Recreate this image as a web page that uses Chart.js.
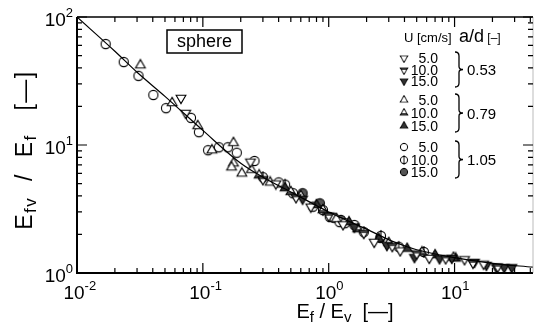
<!DOCTYPE html>
<html>
<head>
<meta charset="utf-8">
<script src="https://cdn.jsdelivr.net/npm/chart.js@4.4.1/dist/chart.umd.min.js"></script>
<style>
  html, body { margin: 0; padding: 0; background: #fff; }
</style>
</head>
<body>
<canvas id="chart" width="539" height="331"></canvas>
<script>
// fitted curve
const curveX = [0.01, 0.02, 0.03, 0.05, 0.1, 0.2, 0.3, 0.5, 1, 2, 3.3, 5, 10, 20, 42];
const curveY = [100, 54, 37, 24, 13, 7.2, 5.6, 4.3, 3.0, 2.2, 1.75, 1.52, 1.32, 1.19, 1.11];

// a/d = 0.53 (down triangles)
const down5 = [[0.067, 23.3], [0.073, 17.8], [0.239, 7.4], [0.38, 5.0], [0.72, 3.3], [1.3, 2.4], [2.3, 1.75], [3.7, 1.5], [6.3, 1.31], [12, 1.28], [17, 1.18]];
const down10 = [[0.3, 5.4], [0.55, 3.9], [1.0, 2.8], [1.9, 2.05], [3.2, 1.62], [5.0, 1.42], [8.5, 1.3], [14, 1.2], [22, 1.12]];
const down15 = [[0.62, 3.8], [1.6, 2.3], [2.9, 1.65], [4.8, 1.33], [7.6, 1.3], [9.5, 1.31], [14.4, 1.22], [17.9, 1.155], [21.5, 1.11], [24.8, 1.11], [28.5, 1.11]];
// a/d = 0.79 (up triangles)
const up5 = [[0.0319, 42], [0.057, 21.3], [0.091, 14.1], [0.118, 9.1], [0.175, 10.4], [0.175, 7.2], [0.169, 6.7], [0.204, 6.0], [0.243, 6.4], [0.343, 5.1], [0.6, 4.0], [1.15, 2.65]];
const up10 = [[0.28, 5.8], [0.5, 4.3], [0.9, 3.1], [1.7, 2.2], [3.0, 1.72], [5.5, 1.45], [9.8, 1.32]];
const up15 = [[0.45, 4.6], [0.8, 3.4], [1.45, 2.5], [2.5, 1.85], [4.2, 1.55], [7.0, 1.38], [10.2, 1.3]];
// a/d = 1.05 (circles)
const circ5 = [[0.0169, 61.5], [0.0235, 44.5], [0.0308, 34.7], [0.0404, 24.6], [0.051, 19.4], [0.0805, 16.3], [0.093, 12.6], [0.11, 9.1], [0.134, 9.6], [0.158, 9.6], [0.186, 8.7], [0.257, 7.5], [0.4, 5.1], [0.52, 4.2], [0.75, 3.3], [1.02, 2.74], [1.1, 2.7], [1.22, 2.5], [1.35, 2.45], [1.6, 2.37]];
const circ10 = [[0.3, 5.6], [0.45, 4.9], [0.9, 3.1], [1.9, 2.09], [2.6, 1.95], [3.6, 1.6], [5.7, 1.46]];
const circ15 = [[0.62, 4.2], [0.85, 3.5], [1.25, 2.6], [2.57, 1.88]];

// axis tick labels
const xDecades = [0.01, 0.1, 1, 10];
const xExps = ["-2", "-1", "0", "1"];
const yDecades = [1, 10, 100];
const yExps = ["0", "1", "2"];

// legend
const speedLabels = ["5.0", "10.0", "15.0"];
const ratioLabels = ["0.53", "0.79", "1.05"];

const FONT = '"Liberation Sans", Arial, sans-serif';

// marker images
function makeMarker(shape, kind) {
    const s = 14, m = s / 2;
    const c = document.createElement("canvas");
    c.width = s; c.height = s;
    const g = c.getContext("2d");
    g.strokeStyle = "#000";
    g.lineWidth = 1.1;
    const path = () => {
        g.beginPath();
        if (shape === "circle") {
            g.arc(m, m, 4.6, 0, Math.PI * 2);
        } else {
            const r = 5.6, d = shape === "up" ? -1 : 1;
            g.moveTo(m, m + d * r);
            g.lineTo(m - r * 0.87, m - d * r * 0.5);
            g.lineTo(m + r * 0.87, m - d * r * 0.5);
            g.closePath();
        }
    };
    path();
    g.fillStyle = kind === 2 ? (shape === "circle" ? "#555" : "#333") : "#fff";
    g.fill();
    if (kind === 1) {
        if (shape === "circle") {
            g.beginPath(); g.moveTo(m, m - 6); g.lineTo(m, m + 6); g.stroke();
        } else {
            g.save(); path(); g.clip();
            g.fillStyle = "#444";
            if (shape === "up") g.fillRect(0, m, s, s);
            else g.fillRect(0, 0, s, m);
            g.restore();
        }
    }
    path(); g.stroke();
    return c;
}

const markers = {
    down: [makeMarker("down", 0), makeMarker("down", 1), makeMarker("down", 2)],
    up: [makeMarker("up", 0), makeMarker("up", 1), makeMarker("up", 2)],
    circle: [makeMarker("circle", 0), makeMarker("circle", 1), makeMarker("circle", 2)]
};

function pts(arr) { return arr.map(p => ({ x: p[0], y: p[1] })); }

function scatterSet(label, arr, img) {
    return { type: "scatter", label, data: pts(arr), pointStyle: img, pointRadius: 5, showLine: false };
}

function richText(g, parts, x, y, align) {
    let w = 0;
    parts.forEach(p => { g.font = p.size + "px " + FONT; w += g.measureText(p.t).width; });
    let cx = align === "right" ? x - w : align === "center" ? x - w / 2 : x;
    parts.forEach(p => {
        g.font = p.size + "px " + FONT;
        g.fillText(p.t, cx, y + (p.dy || 0));
        cx += g.measureText(p.t).width;
    });
}

const decorPlugin = {
    id: "decor",
    afterDraw(chart) {
        const g = chart.ctx;
        const xs = chart.scales.x, ys = chart.scales.y;
        const a = chart.chartArea;
        g.save();
        g.strokeStyle = "#000";
        g.fillStyle = "#000";
        g.textBaseline = "alphabetic";

        // frame
        g.lineWidth = 2;
        g.beginPath();
        g.moveTo(a.left, a.top); g.lineTo(a.left, a.bottom); g.lineTo(a.right, a.bottom);
        g.stroke();
        g.lineWidth = 1.4;
        g.beginPath(); g.moveTo(a.left, a.top); g.lineTo(a.right, a.top); g.stroke();
        g.strokeStyle = "#aaa"; g.lineWidth = 0.8;
        g.beginPath(); g.moveTo(a.right, a.top); g.lineTo(a.right, a.bottom); g.stroke();
        g.strokeStyle = "#000";

        // inward ticks
        g.lineWidth = 1.2;
        xDecades.forEach(d => {
            for (let k = 1; k <= 9; k++) {
                const v = d * k;
                if (v > xs.max) break;
                const px = xs.getPixelForValue(v), len = k === 1 ? 10 : 5;
                g.beginPath();
                g.moveTo(px, a.bottom); g.lineTo(px, a.bottom - len);
                g.moveTo(px, a.top); g.lineTo(px, a.top + len);
                g.stroke();
            }
        });
        yDecades.forEach(d => {
            for (let k = 1; k <= 9; k++) {
                const v = d * k;
                if (v > ys.max) break;
                const py = ys.getPixelForValue(v), len = k === 1 ? 10 : 5;
                g.beginPath();
                g.moveTo(a.left, py); g.lineTo(a.left + len, py);
                g.moveTo(a.right, py); g.lineTo(a.right - len, py);
                g.stroke();
            }
        });

        // tick labels
        yDecades.forEach((d, i) => {
            const py = ys.getPixelForValue(d);
            richText(g, [{ t: "10", size: 19 }, { t: yExps[i], size: 13, dy: -9 }], 73, py + 9, "right");
        });
        xDecades.forEach((d, i) => {
            const px = xs.getPixelForValue(d);
            g.font = "19px " + FONT;
            const w10 = g.measureText("10").width;
            richText(g, [{ t: "10", size: 19 }, { t: xExps[i], size: 13, dy: -9 }], px - 3 - w10 / 2, 299, "left");
        });

        // axis titles
        richText(g, [{ t: "E", size: 20 }, { t: "f", size: 15, dy: 4 }, { t: " / ", size: 20 }, { t: "E", size: 20 }, { t: "v", size: 15, dy: 4 }, { t: "  [—]", size: 20 }], 345, 318, "center");
        g.save();
        g.translate(32, 150);
        g.rotate(-Math.PI / 2);
        g.letterSpacing = "1.5px";
        richText(g, [{ t: "E", size: 23 }, { t: "fv", size: 17, dy: 4 }, { t: "  /  ", size: 23 }, { t: "E", size: 23 }, { t: "f", size: 17, dy: 4 }, { t: "   [—]", size: 23 }], 0, 0, "center");
        g.restore();

        // "sphere" box
        g.lineWidth = 1.5;
        g.strokeRect(167, 30, 75, 23);
        g.font = "18px " + FONT;
        g.textAlign = "center";
        g.fillText("sphere", 204.5, 47);
        g.textAlign = "left";

        // legend
        richText(g, [{ t: "U [cm/s]", size: 13 }], 404, 42, "left");
        richText(g, [{ t: "a/d", size: 18 }, { t: " [–]", size: 12 }], 459, 42, "left");
        const groups = [
            { m: markers.down, rows: [58, 70, 81] },
            { m: markers.up, rows: [100, 113, 126] },
            { m: markers.circle, rows: [147, 160, 172] }
        ];
        g.lineWidth = 1.3;
        groups.forEach((grp, gi) => {
            grp.rows.forEach((ry, ri) => {
                const img = grp.m[ri], sw = img.width * 0.78, sh = img.height * 0.78;
                g.drawImage(img, 404 - sw / 2, ry - sh / 2, sw, sh);
                richText(g, [{ t: speedLabels[ri], size: 14 }], 438, ry + 5, "right");
            });
            const top = grp.rows[0] - 6, bot = grp.rows[2] + 6, mid = (top + bot) / 2;
            g.beginPath();
            g.moveTo(455, top);
            g.quadraticCurveTo(459, top, 459, top + 4);
            g.lineTo(459, mid - 3);
            g.quadraticCurveTo(459, mid, 463, mid);
            g.quadraticCurveTo(459, mid, 459, mid + 3);
            g.lineTo(459, bot - 4);
            g.quadraticCurveTo(459, bot, 455, bot);
            g.stroke();
            richText(g, [{ t: ratioLabels[gi], size: 15 }], 467, mid + 5.5, "left");
        });
        g.restore();
    }
};

new Chart(document.getElementById("chart"), {
    data: {
        datasets: [
            {
                type: "line",
                label: "fit",
                data: curveX.map((x, i) => ({ x, y: curveY[i] })),
                borderColor: "#000",
                borderWidth: 1.2,
                pointRadius: 0,
                cubicInterpolationMode: "monotone",
                fill: false
            },
            scatterSet("0.53 / 5.0", down5, markers.down[0]),
            scatterSet("0.53 / 10.0", down10, markers.down[1]),
            scatterSet("0.53 / 15.0", down15, markers.down[2]),
            scatterSet("0.79 / 5.0", up5, markers.up[0]),
            scatterSet("0.79 / 10.0", up10, markers.up[1]),
            scatterSet("0.79 / 15.0", up15, markers.up[2]),
            scatterSet("1.05 / 5.0", circ5, markers.circle[0]),
            scatterSet("1.05 / 10.0", circ10, markers.circle[1]),
            scatterSet("1.05 / 15.0", circ15, markers.circle[2])
        ]
    },
    options: {
        responsive: false,
        animation: false,
        devicePixelRatio: 1,
        layout: { padding: { left: 77, right: 2, top: 17, bottom: 58 } },
        plugins: { legend: { display: false }, tooltip: { enabled: false } },
        scales: {
            x: { type: "logarithmic", min: 0.01, max: 42, display: false },
            y: { type: "logarithmic", min: 1, max: 100, display: false }
        }
    },
    plugins: [decorPlugin]
});
</script>
</body>
</html>
